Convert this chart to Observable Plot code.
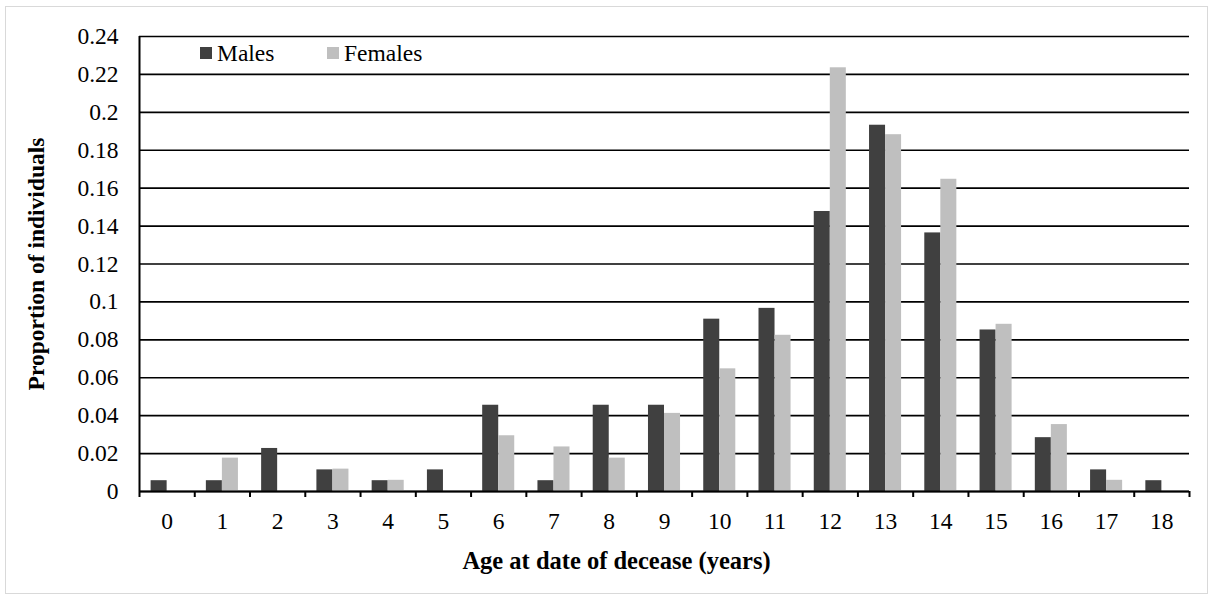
<!DOCTYPE html>
<html>
<head>
<meta charset="utf-8">
<script src="https://cdn.jsdelivr.net/npm/d3@7"></script>
<script src="https://cdn.jsdelivr.net/npm/@observablehq/plot@0.6"></script>
<style>
  html, body { margin: 0; padding: 0; background: #fff; }
  #wrap { position: relative; width: 1213px; height: 599px; overflow: hidden; font-family: "Liberation Serif", "Times New Roman", serif; }
  #border { position: absolute; left: 5px; top: 6px; width: 1201px; height: 586px; border: 1px solid #d9d9d9; pointer-events: none; }
  .legend { position: absolute; top: 39px; font-size: 23.5px; line-height: 28px; display: flex; align-items: center; color: #000; font-family: "Liberation Serif", serif; }
  .sw { display: inline-block; width: 12px; height: 12px; margin-right: 5px; }
</style>
</head>
<body>
<div id="wrap">
  <div id="chart"></div>
  <div id="border"></div>
  <div class="legend" style="left:200px"><span class="sw" style="background:#404040"></span>Males</div>
  <div class="legend" style="left:327px"><span class="sw" style="background:#bfbfbf"></span>Females</div>
</div>
<script>
const ages = [0,1,2,3,4,5,6,7,8,9,10,11,12,13,14,15,16,17,18];
const males = [0.0057,0.0057,0.0227,0.0114,0.0057,0.0114,0.0455,0.0057,0.0455,0.0455,0.0909,0.0966,0.1477,0.1932,0.1364,0.0852,0.0284,0.0114,0.0057];
const females = [0,0.0176,0,0.0118,0.0059,0,0.0294,0.0235,0.0176,0.0412,0.0647,0.0824,0.2235,0.1882,0.1647,0.0882,0.0353,0.0059,0];
const yTicks = [0,0.02,0.04,0.06,0.08,0.1,0.12,0.14,0.16,0.18,0.2,0.22,0.24];
const yTickLabels = ["0","0.02","0.04","0.06","0.08","0.1","0.12","0.14","0.16","0.18","0.2","0.22","0.24"];
const seriesNames = ["Males", "Females"];
const seriesColors = ["#404040", "#bfbfbf"];
const xTitle = "Age at date of decease (years)";
const yTitle = "Proportion of individuals";

const barW = 0.29; // width of a bar as a fraction of one age band
const boundaries = ages.concat([ages.length]).map(a => a - 0.5);

const maleData = ages.map((a, i) => ({age: a, value: males[i]}));
const femaleData = ages.map((a, i) => ({age: a, value: females[i]}));

const chart = Plot.plot({
  width: 1213,
  height: 599,
  marginLeft: 139,
  marginRight: 24,
  marginTop: 36,
  marginBottom: 108,
  style: {fontFamily: "'Liberation Serif', 'Times New Roman', serif", fontSize: "23.5px", color: "#000", background: "transparent"},
  x: {type: "linear", domain: [-0.5, 18.5]},
  y: {domain: [0, 0.24]},
  marks: [
    Plot.ruleY(yTicks, {stroke: "#000", strokeWidth: 1.6}),
    Plot.rectY(maleData, {x1: d => d.age - barW, x2: d => d.age, y1: 0, y2: "value", fill: seriesColors[0]}),
    Plot.rectY(femaleData, {x1: d => d.age, x2: d => d.age + barW, y1: 0, y2: "value", fill: seriesColors[1]}),
    Plot.ruleY([0], {stroke: "#000", strokeWidth: 2}),
    Plot.ruleX([-0.5], {y1: 0, y2: 0.24, stroke: "#000", strokeWidth: 2}),
    Plot.axisX({ticks: boundaries, tickSize: 6, strokeWidth: 2, tickFormat: () => "", label: null}),
    Plot.axisX({ticks: ages, tickSize: 0, tickPadding: 21, tickFormat: d => String(d), label: null, fontSize: 23.5}),
    Plot.axisY({ticks: yTicks, tickSize: 0, tickPadding: 21, tickFormat: d => yTickLabels[yTicks.indexOf(d)], label: null, fontSize: 23.5}),
    Plot.text([yTitle], {frameAnchor: "left", rotate: -90, dx: -103, textAnchor: "middle", lineAnchor: "middle", fontWeight: "bold", fontSize: 23.5, text: d => d}),
    Plot.text([xTitle], {frameAnchor: "bottom", dy: 70, dx: -48, textAnchor: "middle", lineAnchor: "middle", fontWeight: "bold", fontSize: 24.5, text: d => d})
  ]
});
document.getElementById("chart").appendChild(chart);
</script>
</body>
</html>
